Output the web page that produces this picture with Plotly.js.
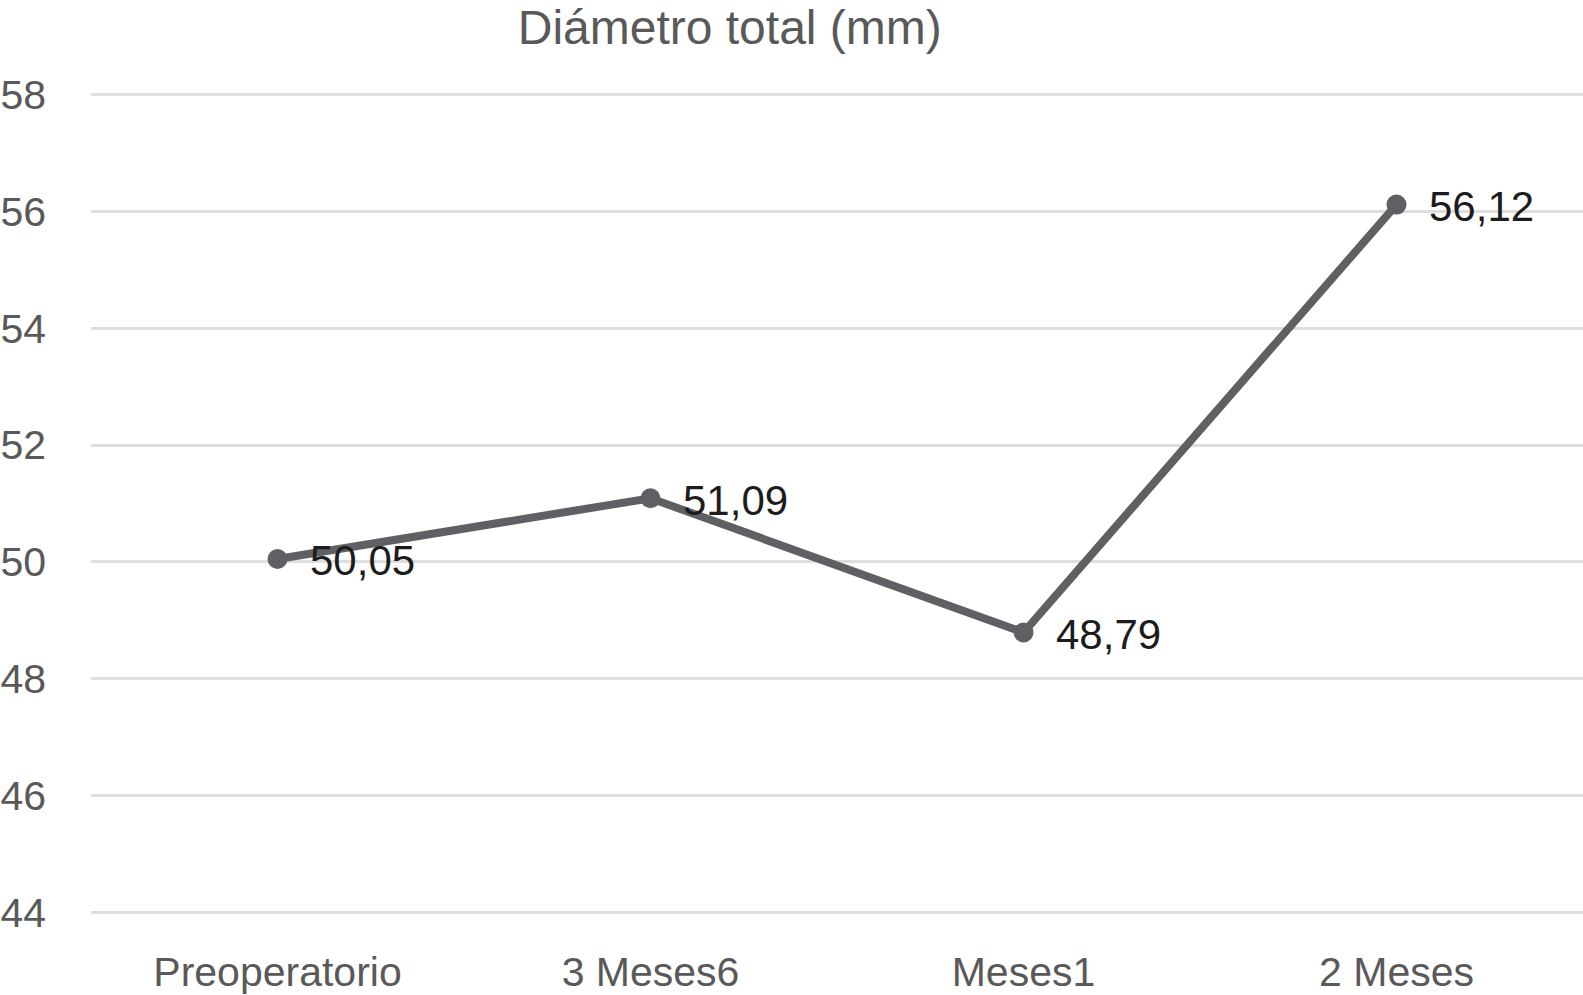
<!DOCTYPE html>
<html>
<head>
<meta charset="utf-8">
<script src="https://cdn.plot.ly/plotly-3.0.1.min.js"></script>
<style>
  html, body { margin: 0; padding: 0; background: #ffffff; }
  #chart { width: 1583px; height: 995px; }
</style>
</head>
<body>
<div id="chart"></div>
<script>
// ---- data ----
const categories = ["Preoperatorio", "3 Meses6", "Meses1", "2 Meses"];
const diameterValues = [50.05, 51.09, 48.79, 56.12];
const yTickValues = [44, 46, 48, 50, 52, 54, 56, 58];
const chartTitle = "Diámetro total (mm)";

// ---- styles ----
const lineColor = "#5f6064";
const axisTextColor = "#595959";
const labelColor = "#1c1c1c";
const gridColor = "#dedede";
const fontFamily = "Liberation Sans, Arial, Helvetica, sans-serif";

const trace = {
  type: "scatter",
  mode: "lines+markers",
  x: categories,
  y: diameterValues,
  line: { color: lineColor, width: 8 },
  marker: { color: lineColor, size: 20 },
  hoverinfo: "x+y",
  showlegend: false
};

const valueAnnotations = categories.map((c, i) => ({
  x: c,
  y: diameterValues[i],
  xref: "x",
  yref: "y",
  text: diameterValues[i].toFixed(2).replace(".", ","),
  showarrow: false,
  xanchor: "left",
  yanchor: "middle",
  xshift: 30,
  yshift: -2,
  font: { family: fontFamily, size: 42, color: labelColor }
}));

const layout = {
  width: 1583,
  height: 995,
  paper_bgcolor: "#ffffff",
  plot_bgcolor: "#ffffff",
  margin: { l: 91, r: 0, t: 88.5, b: 77, pad: 0 },
  font: { family: fontFamily, color: axisTextColor },
  title: {
    text: chartTitle,
    x: 0.461,
    xanchor: "center",
    xref: "container",
    y: 1 - 27 / 995,
    yanchor: "middle",
    yref: "container",
    font: { family: fontFamily, size: 48, color: axisTextColor }
  },
  xaxis: {
    type: "category",
    range: [-0.5, 3.5],
    showgrid: false,
    zeroline: false,
    showline: false,
    ticks: "",
    ticklabelstandoff: 26,
    tickfont: { family: fontFamily, size: 41, color: axisTextColor },
    fixedrange: true
  },
  yaxis: {
    range: [43.9, 58.1],
    tickvals: yTickValues,
    ticktext: yTickValues.map(String),
    showgrid: true,
    gridcolor: gridColor,
    gridwidth: 3,
    zeroline: false,
    showline: false,
    ticks: "",
    ticklabelstandoff: 44,
    tickfont: { family: fontFamily, size: 41, color: axisTextColor },
    fixedrange: true
  },
  annotations: valueAnnotations,
  hovermode: false
};

Plotly.newPlot("chart", [trace], layout, { displayModeBar: false, staticPlot: true });
</script>
</body>
</html>
